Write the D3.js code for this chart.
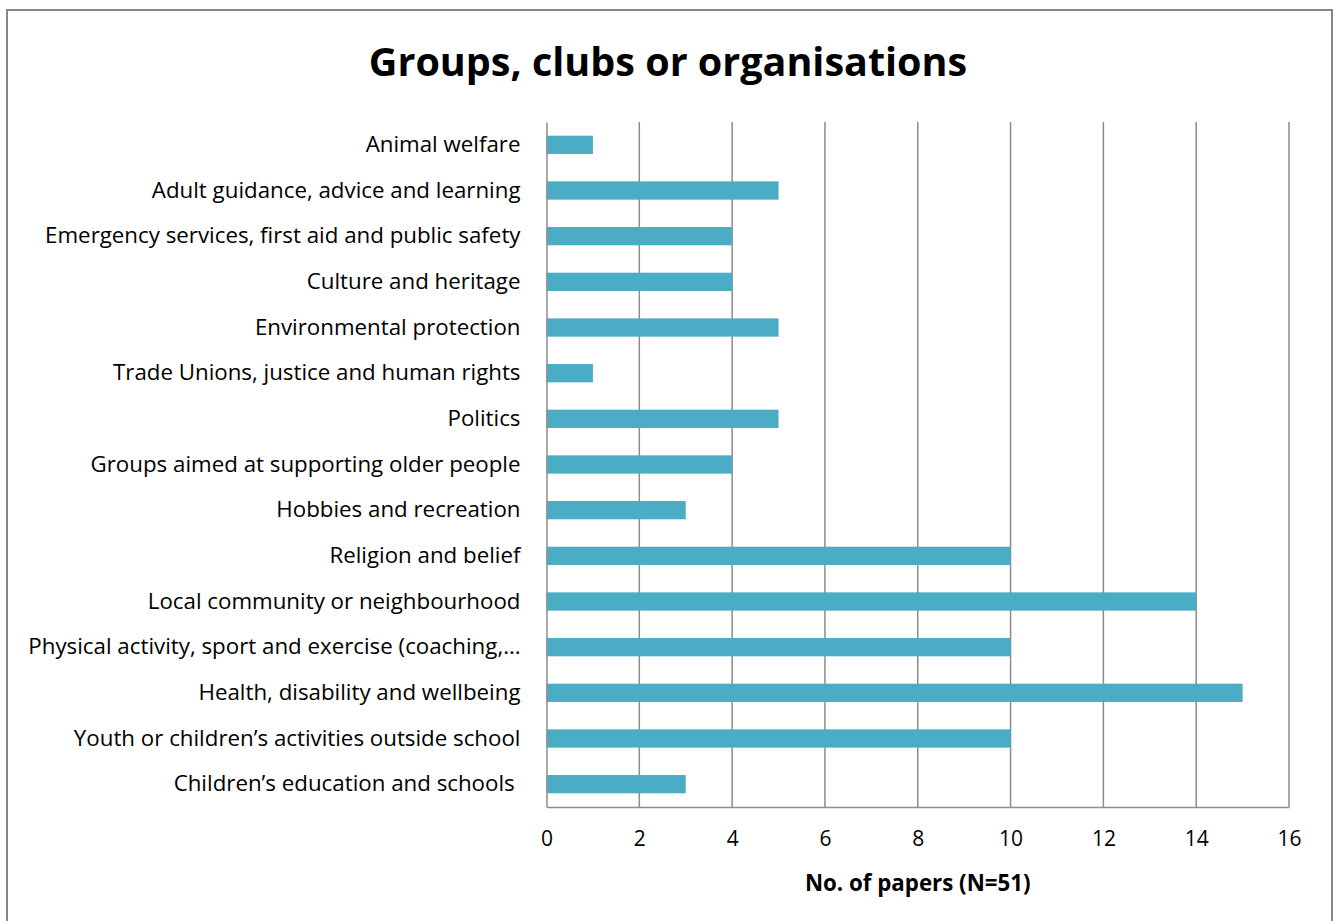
<!DOCTYPE html>
<html>
<head>
<meta charset="utf-8">
<script src="https://cdn.jsdelivr.net/npm/d3@7"></script>
<style>
  body { margin: 0; background: #fff; }
  svg { display: block; }
  svg text { font-family: "Open Sans", sans-serif; }
</style>
</head>
<body>
<svg width="1333" height="921"></svg>
<script>
// Chart data
const categories = [
    "Animal welfare",
    "Adult guidance, advice and learning",
    "Emergency services, first aid and public safety",
    "Culture and heritage",
    "Environmental protection",
    "Trade Unions, justice and human rights",
    "Politics",
    "Groups aimed at supporting older people",
    "Hobbies and recreation",
    "Religion and belief",
    "Local community or neighbourhood",
    "Physical activity, sport and exercise (coaching,\u2026",
    "Health, disability and wellbeing",
    "Youth or children\u2019s activities outside school",
    "Children\u2019s education and schools "
];
const papers = [1, 5, 4, 4, 5, 1, 5, 4, 3, 10, 14, 10, 15, 10, 3];
const xTicks = [0, 2, 4, 6, 8, 10, 12, 14, 16];

const data = categories.map((c, i) => ({ category: c, value: papers[i] }));

const svg = d3.select("svg");

// Outer chart border
svg.append("rect")
    .attr("x", 7)
    .attr("y", 10)
    .attr("width", 1325)
    .attr("height", 920)
    .attr("fill", "none")
    .attr("stroke", "#868686")
    .attr("stroke-width", 2);

const margin = { top: 122, left: 546.5, right: 44, bottom: 114 },
      width = 1333 - margin.left - margin.right,
      height = 921 - margin.top - margin.bottom;

const g = svg.append("g")
    .attr("transform", `translate(${margin.left},${margin.top})`);

// Scales
const x = d3.scaleLinear()
    .domain([0, 16])
    .range([0, width]);

const y = d3.scaleBand()
    .domain(categories)
    .range([0, height])
    .paddingInner(0.6)
    .paddingOuter(0.3);

// Vertical gridlines
g.selectAll(".grid")
    .data(xTicks.slice(1))
    .enter()
    .append("line")
    .attr("class", "grid")
    .attr("x1", d => x(d))
    .attr("x2", d => x(d))
    .attr("y1", 0)
    .attr("y2", height)
    .attr("stroke", "#8c8c8c")
    .attr("stroke-width", 1.5);

// Bars
g.selectAll(".bar")
    .data(data)
    .enter()
    .append("rect")
    .attr("class", "bar")
    .attr("x", 0)
    .attr("y", d => y(d.category))
    .attr("width", d => x(d.value))
    .attr("height", y.bandwidth())
    .attr("fill", "#4bacc6");

// Bottom axis
const xAxis = g.append("g")
    .attr("transform", `translate(0,${height})`)
    .call(d3.axisBottom(x).tickValues(xTicks).tickSize(0).tickPadding(24));
xAxis.attr("font-family", null);
xAxis.select(".domain").attr("stroke", "#8c8c8c").attr("stroke-width", 1.5);
xAxis.selectAll("text")
    .style("font-size", "21px")
    .attr("fill", "#000");

// Left axis
const yAxis = g.append("g")
    .call(d3.axisLeft(y).tickSize(0).tickPadding(26));
yAxis.attr("font-family", null);
yAxis.select(".domain").attr("stroke", "#8c8c8c").attr("stroke-width", 1.5);
yAxis.selectAll("text")
    .style("font-size", "22.3px")
    .style("white-space", "pre")
    .attr("fill", "#000");

// Title
svg.append("text")
    .attr("x", 668)
    .attr("y", 76)
    .attr("text-anchor", "middle")
    .style("font-size", "39.5px")
    .style("font-weight", "bold")
    .text("Groups, clubs or organisations");

// X axis title
svg.append("text")
    .attr("x", margin.left + width / 2)
    .attr("y", 891)
    .attr("text-anchor", "middle")
    .style("font-size", "22.3px")
    .style("font-weight", "bold")
    .text("No. of papers (N=51)");
</script>
</body>
</html>
